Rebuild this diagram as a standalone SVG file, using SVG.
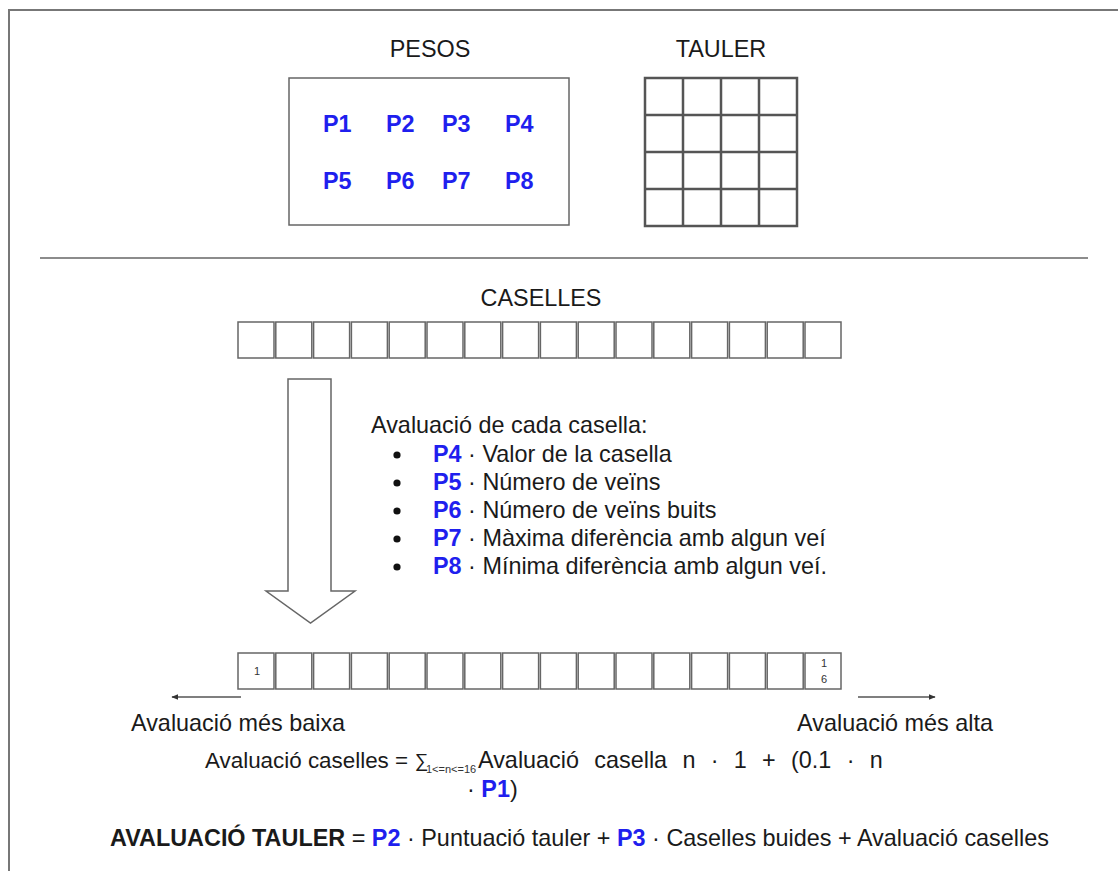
<svg xmlns="http://www.w3.org/2000/svg" width="1118" height="871" viewBox="0 0 1118 871">
  <style>
    .t { font-family: "Liberation Sans", Arial, sans-serif; font-size: 23.4px; fill: #1a1a1a; }
    .t.f { font-size: 22.4px; }
    .t.sum { font-size: 19px; }
    .b { font-weight: bold; }
    .blue { fill: #1f1fee; font-weight: bold; }
    .small { font-family: "Liberation Sans", Arial, sans-serif; font-size: 11px; fill: #333; }
    .box { fill: #fff; stroke: #666; stroke-width: 1.5; }
    .grid { fill: none; stroke: #555; stroke-width: 2.5; }
    .line { stroke: #555; stroke-width: 1.5; fill: none; }
  </style>
  <defs>
    <marker id="head" viewBox="0 0 10 10" refX="9" refY="5" markerWidth="7" markerHeight="7" orient="auto-start-reverse" markerUnits="userSpaceOnUse">
      <path d="M0,1 L10,5 L0,9 Z" fill="#333"/>
    </marker>
    <rect id="cell" width="36" height="36" class="box"/>
  </defs>

  <rect width="1118" height="871" fill="#fff"/>

  <!-- outer frame (runs off the right and bottom edges) -->
  <path d="M9,871 V10 H1118" fill="none" stroke="#777" stroke-width="2"/>

  <!-- weights -->
  <g id="pesos">
    <text class="t" x="430" y="57" text-anchor="middle">PESOS</text>
    <rect x="289" y="78" width="280" height="147" class="box"/>
    <text class="t blue" x="323" y="132">P1</text>
    <text class="t blue" x="386" y="132">P2</text>
    <text class="t blue" x="442" y="132">P3</text>
    <text class="t blue" x="505" y="132">P4</text>
    <text class="t blue" x="323" y="189">P5</text>
    <text class="t blue" x="386" y="189">P6</text>
    <text class="t blue" x="442" y="189">P7</text>
    <text class="t blue" x="505" y="189">P8</text>
  </g>

  <!-- 4x4 board -->
  <g id="tauler">
    <text class="t" x="721" y="57" text-anchor="middle">TAULER</text>
    <rect x="645" y="78" width="152" height="148" class="grid"/>
    <path class="grid" d="M683,78 V226 M721,78 V226 M759,78 V226 M645,115 H797 M645,152 H797 M645,189 H797"/>
  </g>

  <!-- section divider -->
  <line x1="40" y1="258" x2="1088" y2="258" stroke="#666" stroke-width="1.5"/>

  <!-- unsorted cells -->
  <g id="caselles">
    <text class="t" x="541" y="306" text-anchor="middle">CASELLES</text>
    <use href="#cell" x="238" y="322"/>
    <use href="#cell" x="275.8" y="322"/>
    <use href="#cell" x="313.6" y="322"/>
    <use href="#cell" x="351.4" y="322"/>
    <use href="#cell" x="389.2" y="322"/>
    <use href="#cell" x="427" y="322"/>
    <use href="#cell" x="464.8" y="322"/>
    <use href="#cell" x="502.6" y="322"/>
    <use href="#cell" x="540.4" y="322"/>
    <use href="#cell" x="578.2" y="322"/>
    <use href="#cell" x="616" y="322"/>
    <use href="#cell" x="653.8" y="322"/>
    <use href="#cell" x="691.6" y="322"/>
    <use href="#cell" x="729.4" y="322"/>
    <use href="#cell" x="767.2" y="322"/>
    <use href="#cell" x="805" y="322"/>
  </g>

  <!-- per-cell evaluation criteria -->
  <g id="criteris">
    <text class="t" x="371" y="433">Avaluació de cada casella:</text>
    <circle cx="397" cy="455" r="3.6" fill="#111"/>
    <circle cx="397" cy="483" r="3.6" fill="#111"/>
    <circle cx="397" cy="511" r="3.6" fill="#111"/>
    <circle cx="397" cy="539" r="3.6" fill="#111"/>
    <circle cx="397" cy="567" r="3.6" fill="#111"/>
    <text class="t" x="433" y="462"><tspan class="blue">P4</tspan> · Valor de la casella</text>
    <text class="t" x="433" y="490"><tspan class="blue">P5</tspan> · Número de veïns</text>
    <text class="t" x="433" y="518"><tspan class="blue">P6</tspan> · Número de veïns buits</text>
    <text class="t" x="433" y="546"><tspan class="blue">P7</tspan> · Màxima diferència amb algun veí</text>
    <text class="t" x="433" y="574"><tspan class="blue">P8</tspan> · Mínima diferència amb algun veí.</text>
  </g>

  <!-- sorted cells -->
  <g id="caselles-ordenades">
    <use href="#cell" x="238" y="653"/>
    <use href="#cell" x="275.8" y="653"/>
    <use href="#cell" x="313.6" y="653"/>
    <use href="#cell" x="351.4" y="653"/>
    <use href="#cell" x="389.2" y="653"/>
    <use href="#cell" x="427" y="653"/>
    <use href="#cell" x="464.8" y="653"/>
    <use href="#cell" x="502.6" y="653"/>
    <use href="#cell" x="540.4" y="653"/>
    <use href="#cell" x="578.2" y="653"/>
    <use href="#cell" x="616" y="653"/>
    <use href="#cell" x="653.8" y="653"/>
    <use href="#cell" x="691.6" y="653"/>
    <use href="#cell" x="729.4" y="653"/>
    <use href="#cell" x="767.2" y="653"/>
    <use href="#cell" x="805" y="653"/>
    <text class="small" x="257" y="675" text-anchor="middle">1</text>
    <text class="small" x="824" y="667" text-anchor="middle">1</text>
    <text class="small" x="824" y="683" text-anchor="middle">6</text>
  </g>

  <!-- connectors -->
  <g id="connectors">
    <path d="M288,379 H331 V591 H355 L310.5,623 L266,591 H288 Z" fill="#fff" stroke="#666" stroke-width="1.5"/>
    <line class="line" x1="241" y1="697" x2="172" y2="697" marker-end="url(#head)"/>
    <line class="line" x1="858" y1="697" x2="935" y2="697" marker-end="url(#head)"/>
  </g>

  <!-- ordering labels -->
  <g id="extrems">
    <text class="t" x="131" y="731">Avaluació més baixa</text>
    <text class="t" x="993" y="731" text-anchor="end">Avaluació més alta</text>
  </g>

  <!-- cell score formula -->
  <g id="formula-caselles">
    <text class="t f" x="205" y="768">Avaluació caselles =</text>
    <text class="t sum" x="415" y="767">∑</text>
    <text class="small" x="426" y="773">1&lt;=n&lt;=16</text>
    <text class="t" x="478" y="768" word-spacing="8.8">Avaluació casella n · 1 + (0.1 · n</text>
    <text class="t" x="467" y="797">· <tspan class="blue">P1</tspan>)</text>
  </g>

  <!-- board score formula -->
  <g id="formula-tauler">
    <text class="t" x="110" y="846"><tspan class="b">AVALUACIÓ TAULER</tspan> = <tspan class="blue">P2</tspan> · Puntuació tauler + <tspan class="blue">P3</tspan> · Caselles buides + Avaluació caselles</text>
  </g>
</svg>
